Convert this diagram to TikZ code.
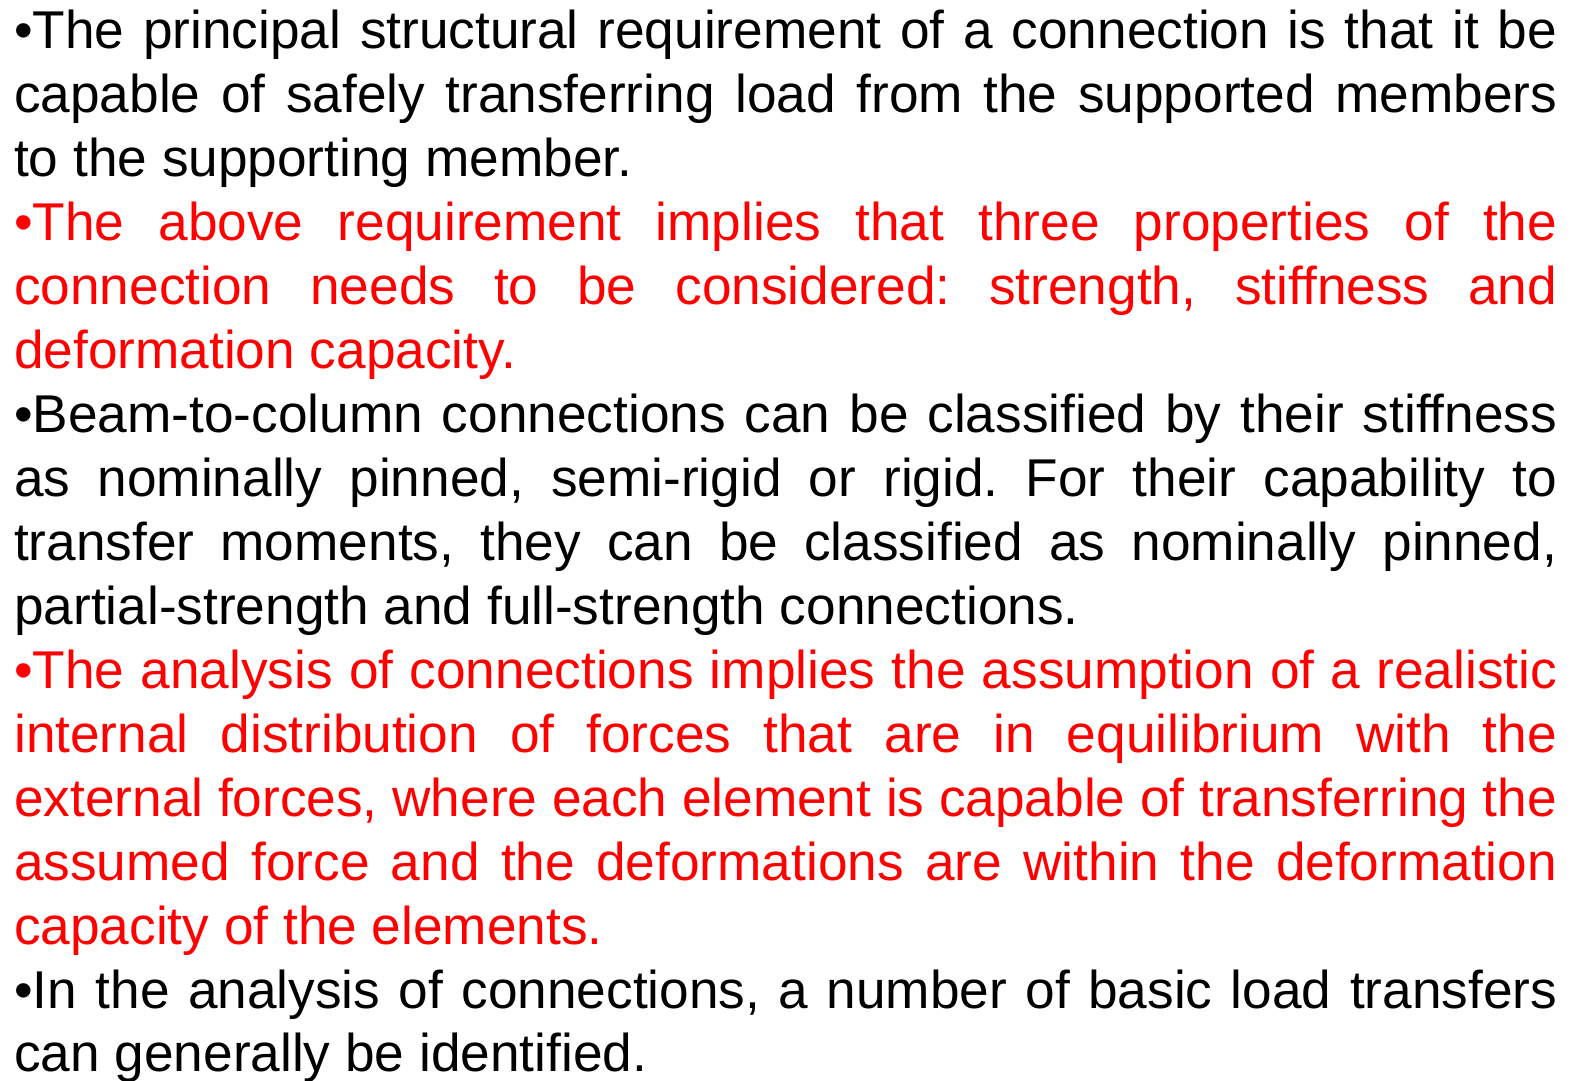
\documentclass[tikz,border=0pt]{standalone}
\usepackage{fontspec}
\setmainfont{Liberation Sans}
\frenchspacing
\definecolor{slidered}{RGB}{255,0,0}
\newlength{\slidewidth}
\setlength{\slidewidth}{1543pt}
\newcommand{\jline}[1]{\hbox to \slidewidth{#1}}
\newcommand{\lastline}[1]{\hbox{#1}}
\newcommand{\slidepara}[1]{\vtop{\hsize=\slidewidth\baselineskip=63.93pt\lineskiplimit=-100pt #1}}
\tikzset{
  para/.style={anchor=base west, inner sep=0pt,
    font=\fontsize{53.2}{63.93}\selectfont},
  hot/.style={para, text=slidered}
}

\begin{document}
\begin{tikzpicture}[x=1pt,y=1pt]
    \useasboundingbox (0,0) rectangle (1575,-1081);

    \node[para] (req) at (14,-49) {\slidepara{%
      \jline{•The principal structural requirement of a connection is that it be}%
      \jline{capable of safely transferring load from the supported members}%
      \lastline{to the supporting member.}}};
    \node[hot] (props) at (14,-240.8) {\slidepara{%
      \jline{•The above requirement implies that three properties of the}%
      \jline{connection needs to be considered: strength, stiffness and}%
      \lastline{deformation capacity.}}};
    \node[para] (class) at (14,-432.6) {\slidepara{%
      \jline{•Beam-to-column connections can be classified by their stiffness}%
      \jline{as nominally pinned, semi-rigid or rigid. For their capability to}%
      \jline{transfer moments, they can be classified as nominally pinned,}%
      \lastline{partial-strength and full-strength connections.}}};
    \node[hot] (analysis) at (14,-688.3) {\slidepara{%
      \jline{•The analysis of connections implies the assumption of a realistic}%
      \jline{internal distribution of forces that are in equilibrium with the}%
      \jline{external forces, where each element is capable of transferring the}%
      \jline{assumed force and the deformations are within the deformation}%
      \lastline{capacity of the elements.}}};
    \node[para] (transfer) at (14,-1008) {\slidepara{%
      \jline{•In the analysis of connections, a number of basic load transfers}%
      \lastline{can generally be identified.}}};
\end{tikzpicture}
\end{document}
